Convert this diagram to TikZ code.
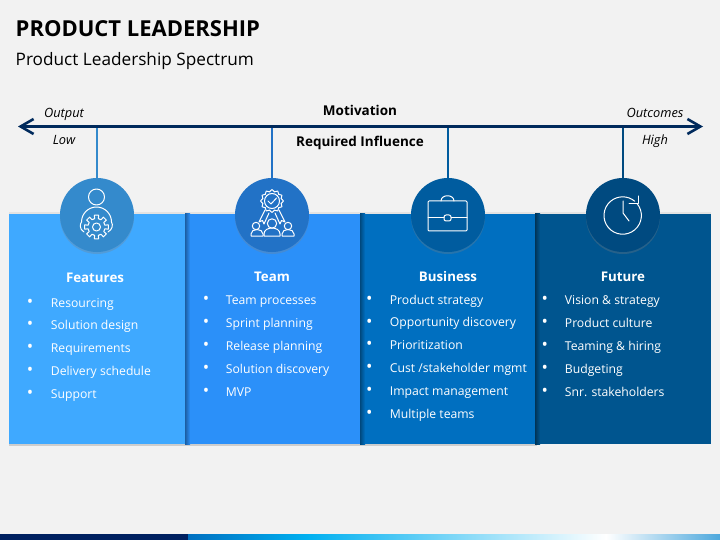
\documentclass[tikz,border=0pt]{standalone}
\usepackage{fontspec}
\setmainfont{Open Sans}
\usetikzlibrary{arrows.meta,shadows}
\definecolor{pageback}{HTML}{F2F2F2}
\definecolor{axisnavy}{HTML}{002A5C}
\definecolor{stripnavy}{HTML}{002060}
\definecolor{stripcyan}{HTML}{00B0F0}
\definecolor{stripend}{HTML}{4DA8DD}
\definecolor{panelA}{HTML}{3FA9FF}
\definecolor{panelB}{HTML}{2B90F9}
\definecolor{panelC}{HTML}{006FC0}
\definecolor{panelD}{HTML}{00558F}
\definecolor{circA}{HTML}{348ACC}
\definecolor{circB}{HTML}{2272C6}
\definecolor{circC}{HTML}{005C9F}
\definecolor{circD}{HTML}{004A80}
\tikzset{
  panel/.style={anchor=north west,minimum height=230pt,inner sep=0pt,outer sep=0pt},
  badge/.style={circle,minimum size=74pt,inner sep=0pt,outer sep=0pt,
    drop shadow={shadow xshift=0pt,shadow yshift=-2pt,opacity=.3}},
  stem/.style={line width=1.8pt},
  icon/.style={draw=white,line width=1pt,line join=round,line cap=round},
  head/.style={white,anchor=base,inner sep=0pt,font=\bfseries\fontsize{13.3}{16}\selectfont},
  bul/.style={white,font=\fontsize{17}{20}\selectfont,inner sep=0pt},
  item/.style={white,anchor=base west,font=\fontsize{12.2}{14}\selectfont,inner sep=0pt},
  side/.style={black,anchor=base,inner sep=0pt,font=\itshape\fontsize{12.8}{14}\selectfont},
  mid/.style={black,anchor=base,inner sep=0pt,font=\bfseries\fontsize{13.5}{16}\selectfont},
}
\begin{document}
\begin{tikzpicture}[x=1pt,y=-1pt]
\useasboundingbox (0,0) rectangle (720,540);
\fill[pageback] (0,0) rectangle (720,540);

% title
\node[anchor=base west,inner sep=0pt,font=\bfseries\fontsize{22}{26}\selectfont] (title) at (15.5,36.7) {PRODUCT LEADERSHIP};
\node[anchor=base west,inner sep=0pt,font=\fontsize{17.2}{20}\selectfont] (subtitle) at (15.5,66) {Product Leadership Spectrum};

% bottom strip
\fill[stripnavy] (0,534) rectangle (188,540);
\fill[left color=panelC,right color=stripcyan] (188,534) rectangle (307,540);
\fill[left color=stripcyan,right color=white] (307,534) rectangle (606,540);
\fill[left color=white,right color=stripend] (606,534) rectangle (720,540);

% panels
\fill[black,opacity=.15] (9,444) rectangle (537,445.5);
\fill[black,opacity=.06] (9,212.5) rectangle (711,214);
\node[panel,fill=panelA,minimum width=176pt] (features) at (9,214) {};
\node[panel,fill=panelB,minimum width=175pt] (team) at (185,214) {};
\node[panel,fill=panelC,minimum width=175pt] (business) at (360,214) {};
\node[panel,fill=panelD,minimum width=176pt] (future) at (535,214) {};
\fill[left color=panelB!65!black,right color=panelB] (team.north west) rectangle ([xshift=5pt]team.south west);
\fill[left color=panelC!65!black,right color=panelC] (business.north west) rectangle ([xshift=5pt]business.south west);
\fill[left color=panelD!60!black,right color=panelD] (future.north west) rectangle ([xshift=5pt]future.south west);

% axis and stems
\coordinate (axisL) at (18,126.5);
\coordinate (axisR) at (703,126.5);
\coordinate (tickA) at (97,126.5);
\coordinate (tickB) at (272,126.5);
\coordinate (tickC) at (448,126.5);
\coordinate (tickD) at (623,126.5);
\node[badge,fill=circA] (badgeA) at (97,215) {};
\node[badge,fill=circB] (badgeB) at (272,215) {};
\node[badge,fill=circC] (badgeC) at (448,215) {};
\node[badge,fill=circD] (badgeD) at (623,215) {};
\draw[stem,circA] (tickA) -- (badgeA);
\draw[stem,circB] (tickB) -- (badgeB);
\draw[stem,circC] (tickC) -- (badgeC);
\draw[stem,circD] (tickD) -- (badgeD);
\draw[axisnavy,line width=2.6pt,{Straight Barb[length=13pt,width=15pt,line width=2.6pt]}-{Straight Barb[length=13pt,width=15pt,line width=2.6pt]}] (axisL) -- (axisR);

% axis labels
\node[mid] (motivation) at (360,115.5) {Motivation};
\node[mid] (influence) at (360,146.5) {Required Influence};
\node[side] (output) at (64,117.5) {Output};
\node[side] (low) at (64,144.5) {Low};
\node[side] (outcomes) at (655,117.5) {Outcomes};
\node[side] (high) at (655,144.5) {High};

% person with gear
\draw[icon] (96.5,197) circle (8);
\draw[icon] (84,232) .. controls (79,229) and (80,224) .. (81.5,222) arc (180:360:15) .. controls (113,225) and (113,229) .. (108,232);
\begin{scope}[shift={(96.5,227)}]
\fill[circA] (0,0) circle (11.5);
\foreach \a in {0,45,...,315}
  \draw[icon] (\a-22.5:8.5) arc (\a-22.5:\a-13:8.5) -- (\a-10:12) -- (\a+10:12) -- (\a+13:8.5) arc (\a+13:\a+22.5:8.5);
\draw[icon] (0,0) circle (4);
\end{scope}

% rosette with team
\begin{scope}[shift={(272,201)}]
\foreach \a in {0,30,...,330}
  \draw[icon] (\a-15:9.5) -- (\a:11.5) -- (\a+15:9.5);
\draw[icon] (0,0) circle (7.5);
\draw[icon] (-4,0) -- (-1,3) -- (4.5,-3);
\draw[icon] (-7,9) -- (-13,21) -- (-9.5,19.5) -- (-8,23) -- (-3,12);
\draw[icon] (7,9) -- (13,21) -- (9.5,19.5) -- (8,23) -- (3,12);
\end{scope}
\draw[icon] (256,226) circle (3.7);
\draw[icon] (272,223.5) circle (4.7);
\draw[icon] (288,226) circle (3.7);
\draw[icon] (251,236) -- (263,236) -- (263,234) .. controls (263,228) and (251,228) .. (251,234) -- cycle;
\draw[icon] (264,236) -- (280,236) -- (280,234) .. controls (280,226) and (264,226) .. (264,234) -- cycle;
\draw[icon] (282,236) -- (294,236) -- (294,234) .. controls (294,228) and (282,228) .. (282,234) -- cycle;

% briefcase
\draw[icon,rounded corners=1pt] (428,201) rectangle (467,231);
\draw[icon] (441,201) .. controls (441,194) and (454,194) .. (454,201);
\draw[icon] (428,218) -- (444,218);
\draw[icon] (451,218) -- (467,218);
\draw[icon,rounded corners=2pt] (444,215) rectangle (451,221);

% clock
\draw[icon] (637,203.5) arc (-40:310:18.7);
\draw[icon] (638,196) -- (638,204) -- (629,204);
\draw[icon] (623,201) -- (623,213) -- (629,221);

% columns
\node[head] (featuresHead) at (95,282) {Features};
\node[head] (teamHead) at (272,281) {Team};
\node[head] (businessHead) at (448,281) {Business};
\node[head] (futureHead) at (623,281) {Future};
\foreach \txt [count=\i] in {Resourcing,Solution design,Requirements,Delivery schedule,Support} {
  \node[bul] (featuresDot\i) at (30,{303+22.8*(\i-1)}) {•};
  \node[item] (featuresItem\i) at (50.7,{307+22.8*(\i-1)}) {\txt};
}
\foreach \txt [count=\i] in {Team processes,Sprint planning,Release planning,Solution discovery,MVP} {
  \node[bul] (teamDot\i) at (206,{300+23*(\i-1)}) {•};
  \node[item] (teamItem\i) at (225.7,{304+23*(\i-1)}) {\txt};
}
\foreach \txt [count=\i] in {Product strategy,Opportunity discovery,Prioritization,Cust /stakeholder mgmt,Impact management,Multiple teams} {
  \node[bul] (businessDot\i) at (369.3,{300+22.9*(\i-1)}) {•};
  \node[item] (businessItem\i) at (389.7,{304+22.9*(\i-1)}) {\txt};
}
\foreach \txt [count=\i] in {Vision \& strategy,Product culture,Teaming \& hiring,Budgeting,Snr. stakeholders} {
  \node[bul] (futureDot\i) at (544.7,{300+23*(\i-1)}) {•};
  \node[item] (futureItem\i) at (564.7,{304+23*(\i-1)}) {\txt};
}
\end{tikzpicture}
\end{document}
